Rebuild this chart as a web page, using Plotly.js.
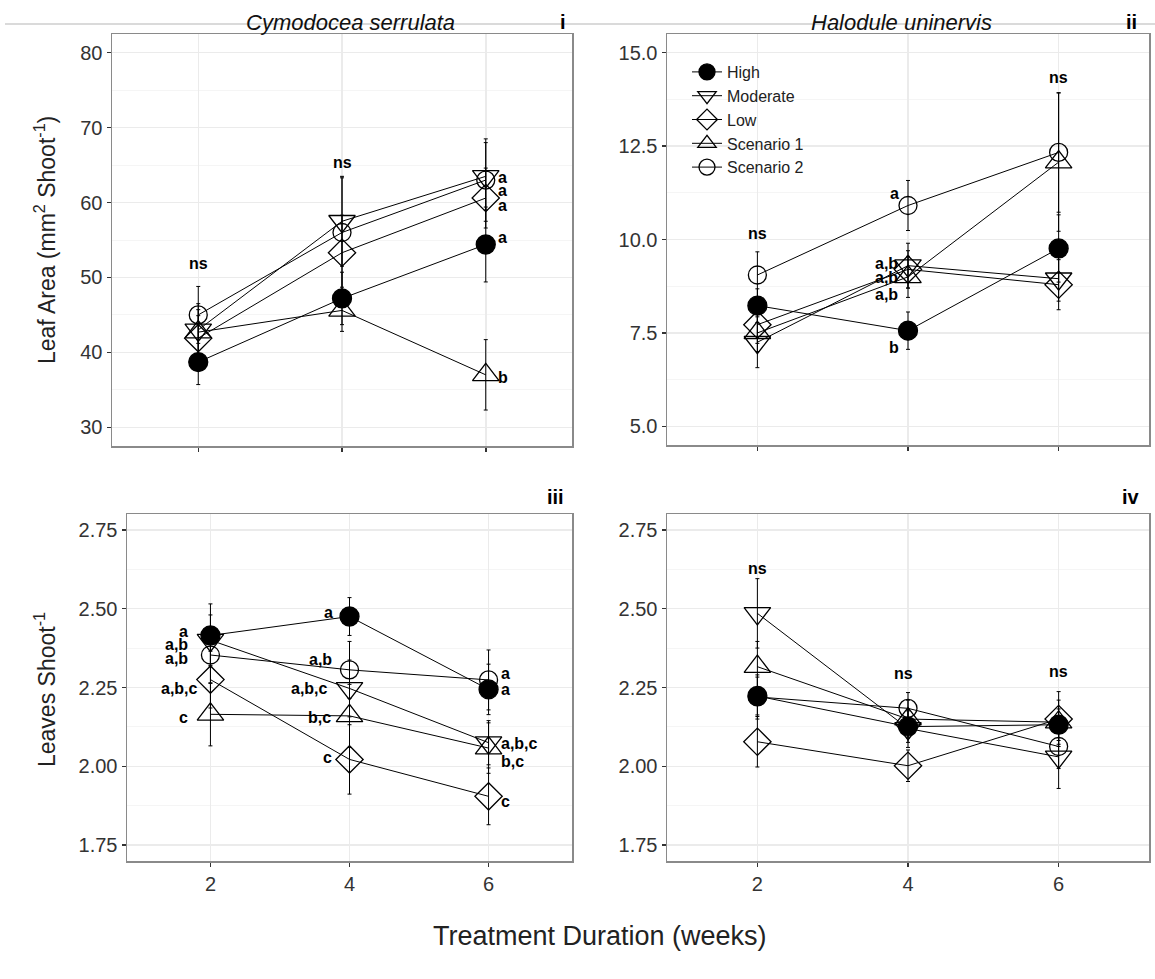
<!DOCTYPE html>
<html>
<head>
<meta charset="utf-8">
<script src="https://cdn.plot.ly/plotly-3.0.1.min.js"></script>
<style>html,body{margin:0;padding:0;background:#fff;}#chart{width:1155px;height:979px;}</style>
</head>
<body>
<div id="chart"></div>
<script>
// ---------------- DATA ----------------
const weeks = ["2", "4", "6"];
const seriesNames = ["High", "Moderate", "Low", "Scenario 1", "Scenario 2"];

// (i) Cymodocea serrulata – leaf area (mm2 shoot-1); rows follow seriesNames
const csArea   = [[38.7, 47.2, 54.4], [43.0, 57.5, 63.5], [41.9, 53.3, 60.6], [42.7, 45.6, 37.0], [45.0, 56.0, 63.0]];
const csAreaSE = [[3.0, 3.5, 5.0],   [3.5, 6.0, 4.5],   [3.0, 5.0, 4.0],   [3.0, 2.8, 4.7],   [3.8, 7.3, 5.5]];

// (ii) Halodule uninervis – leaf area
const huArea   = [[8.23, 7.56, 9.76], [7.25, 9.30, 8.95], [7.72, 9.20, 8.79], [7.50, 9.00, 12.07], [9.05, 10.91, 12.33]];
const huAreaSE = [[0.45, 0.50, 0.90], [0.68, 0.60, 0.60], [0.50, 0.50, 0.67], [0.50, 0.55, 1.85],  [0.62, 0.67, 1.60]];

// (iii) Cymodocea serrulata – leaves shoot-1
const csLeaves   = [[2.415, 2.475, 2.244], [2.400, 2.247, 2.075], [2.275, 2.022, 1.905], [2.165, 2.160, 2.058], [2.353, 2.306, 2.274]];
const csLeavesSE = [[0.10, 0.06, 0.08],    [0.08, 0.09, 0.07],    [0.09, 0.11, 0.09],    [0.10, 0.10, 0.08],    [0.09, 0.09, 0.095]];

// (iv) Halodule uninervis – leaves shoot-1
const huLeaves   = [[2.223, 2.126, 2.132], [2.485, 2.120, 2.030], [2.078, 2.002, 2.150], [2.316, 2.150, 2.140], [2.220, 2.184, 2.063]];
const huLeavesSE = [[0.06, 0.05, 0.05],    [0.11, 0.06, 0.10],    [0.08, 0.05, 0.087],   [0.08, 0.06, 0.07],    [0.07, 0.05, 0.07]];

const panelTitles = ["Cymodocea serrulata", "Halodule uninervis"];
const panelNumerals = ["i", "ii", "iii", "iv"];
const yTitles = ["Leaf Area (mm<sup>2</sup> Shoot<sup>-1</sup>)", "Leaves Shoot<sup>-1</sup>"];
const xTitle = "Treatment Duration (weeks)";

// ---------------- STYLE ----------------
const W = 1155, H = 979;
const px = x => x / W;
const py = y => 1 - y / H;
const SANS = "'Liberation Sans', Arial, sans-serif";
const symbols = ["circle", "triangle-down-open", "diamond-open", "triangle-up-open", "circle-open"];
const sizes = [19, 23, 21, 23, 18];

const panels = [
  {ax: "",  mean: csArea,   se: csAreaSE,   legend: false},
  {ax: "2", mean: huArea,   se: huAreaSE,   legend: true},
  {ax: "3", mean: csLeaves, se: csLeavesSE, legend: false},
  {ax: "4", mean: huLeaves, se: huLeavesSE, legend: false}
];

const traces = [];
panels.forEach(p => {
  seriesNames.forEach((name, i) => {
    traces.push({
      type: "scatter", mode: "lines+markers",
      x: weeks, y: p.mean[i], name: name,
      showlegend: p.legend,
      xaxis: "x" + p.ax, yaxis: "y" + p.ax,
      line: {color: "black", width: 1},
      marker: {symbol: symbols[i], size: sizes[i], color: "black", line: {color: "black", width: 1.3}},
      error_y: {type: "data", array: p.se[i], visible: true, color: "black", thickness: 1, width: 2},
      hoverinfo: "x+y+name"
    });
  });
});

function xAxis(domain, anchor, showLabels) {
  return {
    type: "category", categoryorder: "array", categoryarray: weeks,
    range: [-0.6, 2.6], domain: domain, anchor: anchor,
    showgrid: true, gridcolor: "#ebebeb", gridwidth: 1.5,
    showline: true, mirror: true, linecolor: "#8a8a8a", linewidth: 1.5,
    ticks: "outside", ticklen: 4, tickwidth: 1.5, tickcolor: "#333",
    showticklabels: showLabels,
    tickfont: {family: SANS, size: 20, color: "#333"},
    zeroline: false, fixedrange: true
  };
}
function yAxis(domain, anchor, range, tick0, dtick, fmt) {
  return {
    domain: domain, anchor: anchor, range: range,
    tick0: tick0, dtick: dtick, tickformat: fmt,
    showgrid: true, gridcolor: "#ebebeb", gridwidth: 1.5,
    minor: {dtick: dtick / 2, tick0: tick0, showgrid: true, gridcolor: "#f5f5f5", gridwidth: 1, ticks: ""},
    showline: true, mirror: true, linecolor: "#8a8a8a", linewidth: 1.5,
    ticks: "outside", ticklen: 4, tickwidth: 1.5, tickcolor: "#333",
    tickfont: {family: SANS, size: 20, color: "#333"},
    zeroline: false, fixedrange: true
  };
}

const dI   = {x: [px(112), px(572)], y: [py(446), py(34)]};
const dII  = {x: [px(667), px(1149)], y: [py(445), py(34)]};
const dIII = {x: [px(127), px(572)], y: [py(861), py(514)]};
const dIV  = {x: [px(667), px(1149)], y: [py(861), py(514)]};

const LETTER_FONT = {family: SANS, size: 16, color: "black", weight: "bold"};
function lab(ax, week, y, text, xanchor, xshift) {
  return {xref: "x" + ax, yref: "y" + ax, x: weeks.indexOf(week), y: y, text: text, showarrow: false,
          xanchor: xanchor || "center", yanchor: "middle", xshift: xshift || 0, borderpad: 0, font: LETTER_FONT};
}
function paperText(x, y, text, font, extra) {
  return Object.assign({xref: "paper", yref: "paper", x: px(x), y: py(y), text: text, showarrow: false,
          xanchor: "center", yanchor: "middle", font: font}, extra || {});
}

const TITLE_FONT = {family: SANS, size: 22, color: "#111", style: "italic"};
const NUM_FONT = {family: SANS, size: 20, color: "black", weight: "bold"};
const YT_FONT = {family: SANS, size: 23, color: "#222"};

const annotations = [
  // panel i
  lab("", "2", 51.9, "ns"), lab("", "4", 65.4, "ns"),
  lab("", "6", 63.4, "a", "left", 11), lab("", "6", 61.6, "a", "left", 11),
  lab("", "6", 59.6, "a", "left", 11), lab("", "6", 55.3, "a", "left", 11),
  lab("", "6", 36.6, "b", "left", 11),
  // panel ii
  lab("2", "2", 10.16, "ns"), lab("2", "6", 14.33, "ns"),
  lab("2", "4", 11.24, "a", "right", -8),
  lab("2", "4", 9.36, "a,b", "right", -9), lab("2", "4", 8.98, "a,b", "right", -9),
  lab("2", "4", 8.52, "a,b", "right", -9),
  lab("2", "4", 7.10, "b", "right", -8),
  // panel iii
  lab("3", "2", 2.427, "a", "right", -21), lab("3", "2", 2.385, "a,b", "right", -21),
  lab("3", "2", 2.343, "a,b", "right", -21), lab("3", "2", 2.247, "a,b,c", "right", -11),
  lab("3", "2", 2.155, "c", "right", -21),
  lab("3", "4", 2.487, "a", "right", -16), lab("3", "4", 2.339, "a,b", "right", -17),
  lab("3", "4", 2.247, "a,b,c", "right", -21), lab("3", "4", 2.155, "b,c", "right", -18),
  lab("3", "4", 2.028, "c", "right", -17),
  lab("3", "6", 2.295, "a", "left", 11), lab("3", "6", 2.244, "a", "left", 11),
  lab("3", "6", 2.073, "a,b,c", "left", 11), lab("3", "6", 2.015, "b,c", "left", 11),
  lab("3", "6", 1.888, "c", "left", 11),
  // panel iv
  lab("4", "2", 2.628, "ns"), lab("4", "4", 2.295, "ns", "center", -5), lab("4", "6", 2.30, "ns"),
  // titles and numerals
  paperText(350, 22, panelTitles[0], TITLE_FONT),
  paperText(901, 22, panelTitles[1], TITLE_FONT),
  paperText(563, 22, panelNumerals[0], NUM_FONT),
  paperText(1131, 22, panelNumerals[1], NUM_FONT),
  paperText(555, 497, panelNumerals[2], NUM_FONT),
  paperText(1131, 497, panelNumerals[3], NUM_FONT),
  // axis titles
  paperText(45, 240, yTitles[0], YT_FONT, {textangle: -90}),
  paperText(45, 690, yTitles[1], YT_FONT, {textangle: -90}),
  paperText(600, 936, xTitle, {family: SANS, size: 27, color: "#222"})
];

const layout = {
  width: W, height: H,
  margin: {l: 0, r: 0, t: 0, b: 0},
  paper_bgcolor: "white", plot_bgcolor: "white",
  showlegend: true,
  legend: {x: px(687), y: py(55), xanchor: "left", yanchor: "top",
           bgcolor: "rgba(0,0,0,0)", borderwidth: 0, tracegroupgap: 0,
           font: {family: SANS, size: 16, color: "#222"}},
  xaxis:  xAxis(dI.x, "y", false),
  yaxis:  yAxis(dI.y, "x", [27.5, 82.5], 30, 10, "d"),
  xaxis2: xAxis(dII.x, "y2", false),
  yaxis2: yAxis(dII.y, "x2", [4.5, 15.5], 5, 2.5, ".1f"),
  xaxis3: xAxis(dIII.x, "y3", true),
  yaxis3: yAxis(dIII.y, "x3", [1.70, 2.80], 1.75, 0.25, ".2f"),
  xaxis4: xAxis(dIV.x, "y4", true),
  yaxis4: yAxis(dIV.y, "x4", [1.70, 2.80], 1.75, 0.25, ".2f"),
  annotations: annotations,
  shapes: [{type: "line", xref: "paper", yref: "paper", x0: px(5), x1: 1, y0: py(24), y1: py(24),
            line: {color: "#b5b5b5", width: 1}, layer: "below"}]
};

Plotly.newPlot("chart", traces, layout, {displayModeBar: false, staticPlot: true});
</script>
</body>
</html>
